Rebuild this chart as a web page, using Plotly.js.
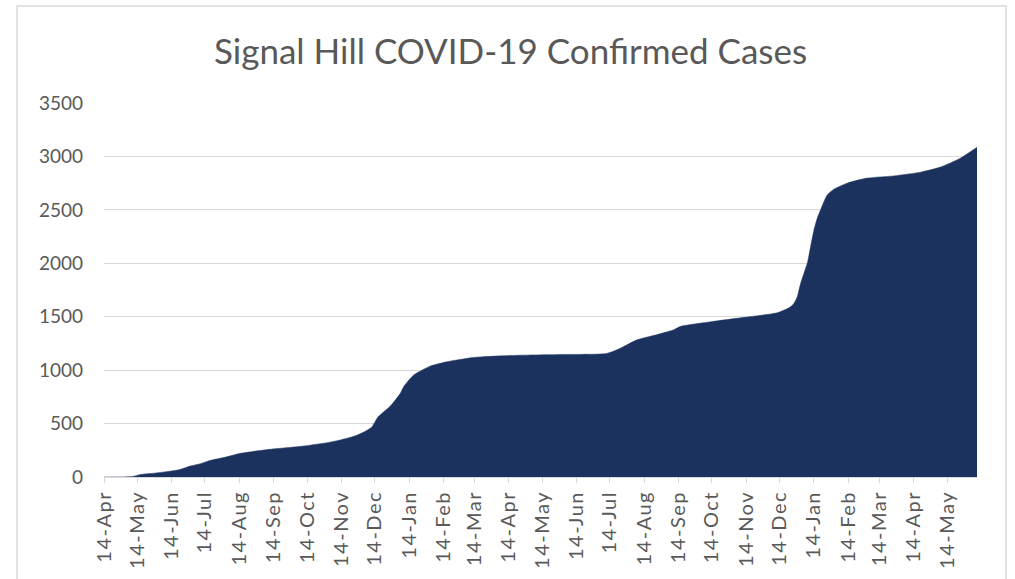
<!DOCTYPE html>
<html>
<head>
<meta charset="utf-8">
<script src="https://cdn.plot.ly/plotly-3.0.1.min.js"></script>
<style>
  html, body { margin: 0; padding: 0; background: #ffffff; }
  #chart { width: 1015px; height: 579px; }
  #chart .xtick text { letter-spacing: 1.5px; }
</style>
</head>
<body>
<div id="chart"></div>
<script>
// Dates and cumulative confirmed cases
var dates = [
  '2020-04-14','2020-05-10','2020-05-16','2020-05-31','2020-06-21','2020-06-30',
  '2020-07-09','2020-07-18','2020-08-02','2020-08-14','2020-09-01','2020-09-13',
  '2020-10-07','2020-10-31','2020-11-12','2020-11-28','2020-12-11','2020-12-17',
  '2020-12-28','2021-01-06','2021-01-09','2021-01-18','2021-02-02','2021-02-17',
  '2021-03-13','2021-04-18','2021-06-02','2021-07-11','2021-07-23','2021-08-07',
  '2021-08-25','2021-09-09','2021-09-16','2021-10-13','2021-11-12','2021-12-12',
  '2021-12-24','2021-12-27','2021-12-30','2022-01-02','2022-01-05','2022-01-08',
  '2022-01-11','2022-01-14','2022-01-17','2022-01-20','2022-01-23','2022-01-26',
  '2022-02-01','2022-02-13','2022-03-03','2022-03-27','2022-04-20','2022-05-08',
  '2022-05-26','2022-06-10'
];
var cases = [
  0, 5, 22, 38, 69, 100,
  122, 153, 187, 219, 247, 262,
  285, 319, 344, 391, 463, 562,
  662, 781, 843, 953, 1037, 1078,
  1119, 1138, 1147, 1156, 1203, 1281,
  1331, 1375, 1410, 1453, 1494, 1537,
  1593, 1625, 1687, 1812, 1906, 2000,
  2156, 2312, 2422, 2500, 2577, 2640,
  2694, 2750, 2797, 2818, 2853, 2900,
  2984, 3085
];

var tickDates = [
  '2020-04-14','2020-05-14','2020-06-14','2020-07-14','2020-08-14','2020-09-14',
  '2020-10-14','2020-11-14','2020-12-14','2021-01-14','2021-02-14','2021-03-14',
  '2021-04-14','2021-05-14','2021-06-14','2021-07-14','2021-08-14','2021-09-14',
  '2021-10-14','2021-11-14','2021-12-14','2022-01-14','2022-02-14','2022-03-14',
  '2022-04-14','2022-05-14'
];
var tickLabels = [
  '14-Apr','14-May','14-Jun','14-Jul','14-Aug','14-Sep',
  '14-Oct','14-Nov','14-Dec','14-Jan','14-Feb','14-Mar',
  '14-Apr','14-May','14-Jun','14-Jul','14-Aug','14-Sep',
  '14-Oct','14-Nov','14-Dec','14-Jan','14-Feb','14-Mar',
  '14-Apr','14-May'
];
var yTicks = [0, 500, 1000, 1500, 2000, 2500, 3000, 3500];

var W = 1015, H = 579;
var mL = 104, mR = 38, mT = 103, mB = 102;
var pw = W - mL - mR, ph = H - mT - mB;

var trace = {
  x: dates,
  y: cases,
  type: 'scatter',
  mode: 'lines',
  fill: 'tozeroy',
  fillcolor: '#1c325e',
  line: { color: '#1c325e', width: 0.5, shape: 'spline', smoothing: 0.6 },
  hoverinfo: 'x+y'
};

var layout = {
  width: W,
  height: H,
  margin: { l: mL, r: mR, t: mT, b: mB, pad: 0 },
  paper_bgcolor: 'rgba(0,0,0,0)',
  plot_bgcolor: 'rgba(0,0,0,0)',
  showlegend: false,
  font: { family: 'Lato, "Open Sans", sans-serif', color: '#595959' },
  title: {
    text: 'Signal Hill COVID-19 Confirmed Cases',
    font: { family: 'Lato, "Open Sans", sans-serif', size: 35, color: '#595959' },
    x: 0.503, xref: 'container', xanchor: 'center',
    y: 1 - 52 / H, yref: 'container', yanchor: 'middle'
  },
  xaxis: {
    type: 'date',
    range: [dates[0], dates[dates.length - 1]],
    tickmode: 'array',
    tickvals: tickDates,
    ticktext: tickLabels,
    tickangle: -90,
    tickfont: { size: 20, color: '#595959' },
    showgrid: false,
    zeroline: false,
    showline: true,
    linecolor: '#d9d9d9',
    linewidth: 1,
    ticks: 'outside',
    ticklen: 5,
    tickcolor: '#d9d9d9',
    tickwidth: 1,
    fixedrange: true
  },
  yaxis: {
    range: [0, 3500],
    tickmode: 'array',
    tickvals: yTicks,
    ticktext: yTicks.map(String),
    tickfont: { size: 19, color: '#595959' },
    showgrid: true,
    gridcolor: '#d9d9d9',
    gridwidth: 1,
    zeroline: false,
    showline: false,
    ticks: '',
    ticklabelstandoff: 20,
    fixedrange: true
  },
  shapes: [{
    type: 'rect',
    xref: 'paper', yref: 'paper',
    x0: (17 - mL) / pw, x1: (1006 - mL) / pw,
    y0: -(H + 20 - mT - ph) / ph, y1: (H - 6 - mB) / ph,
    line: { color: '#d9d9d9', width: 1.5 },
    fillcolor: 'rgba(0,0,0,0)',
    layer: 'below'
  }]
};

Plotly.newPlot('chart', [trace], layout, { displayModeBar: false, staticPlot: true });
</script>
</body>
</html>
